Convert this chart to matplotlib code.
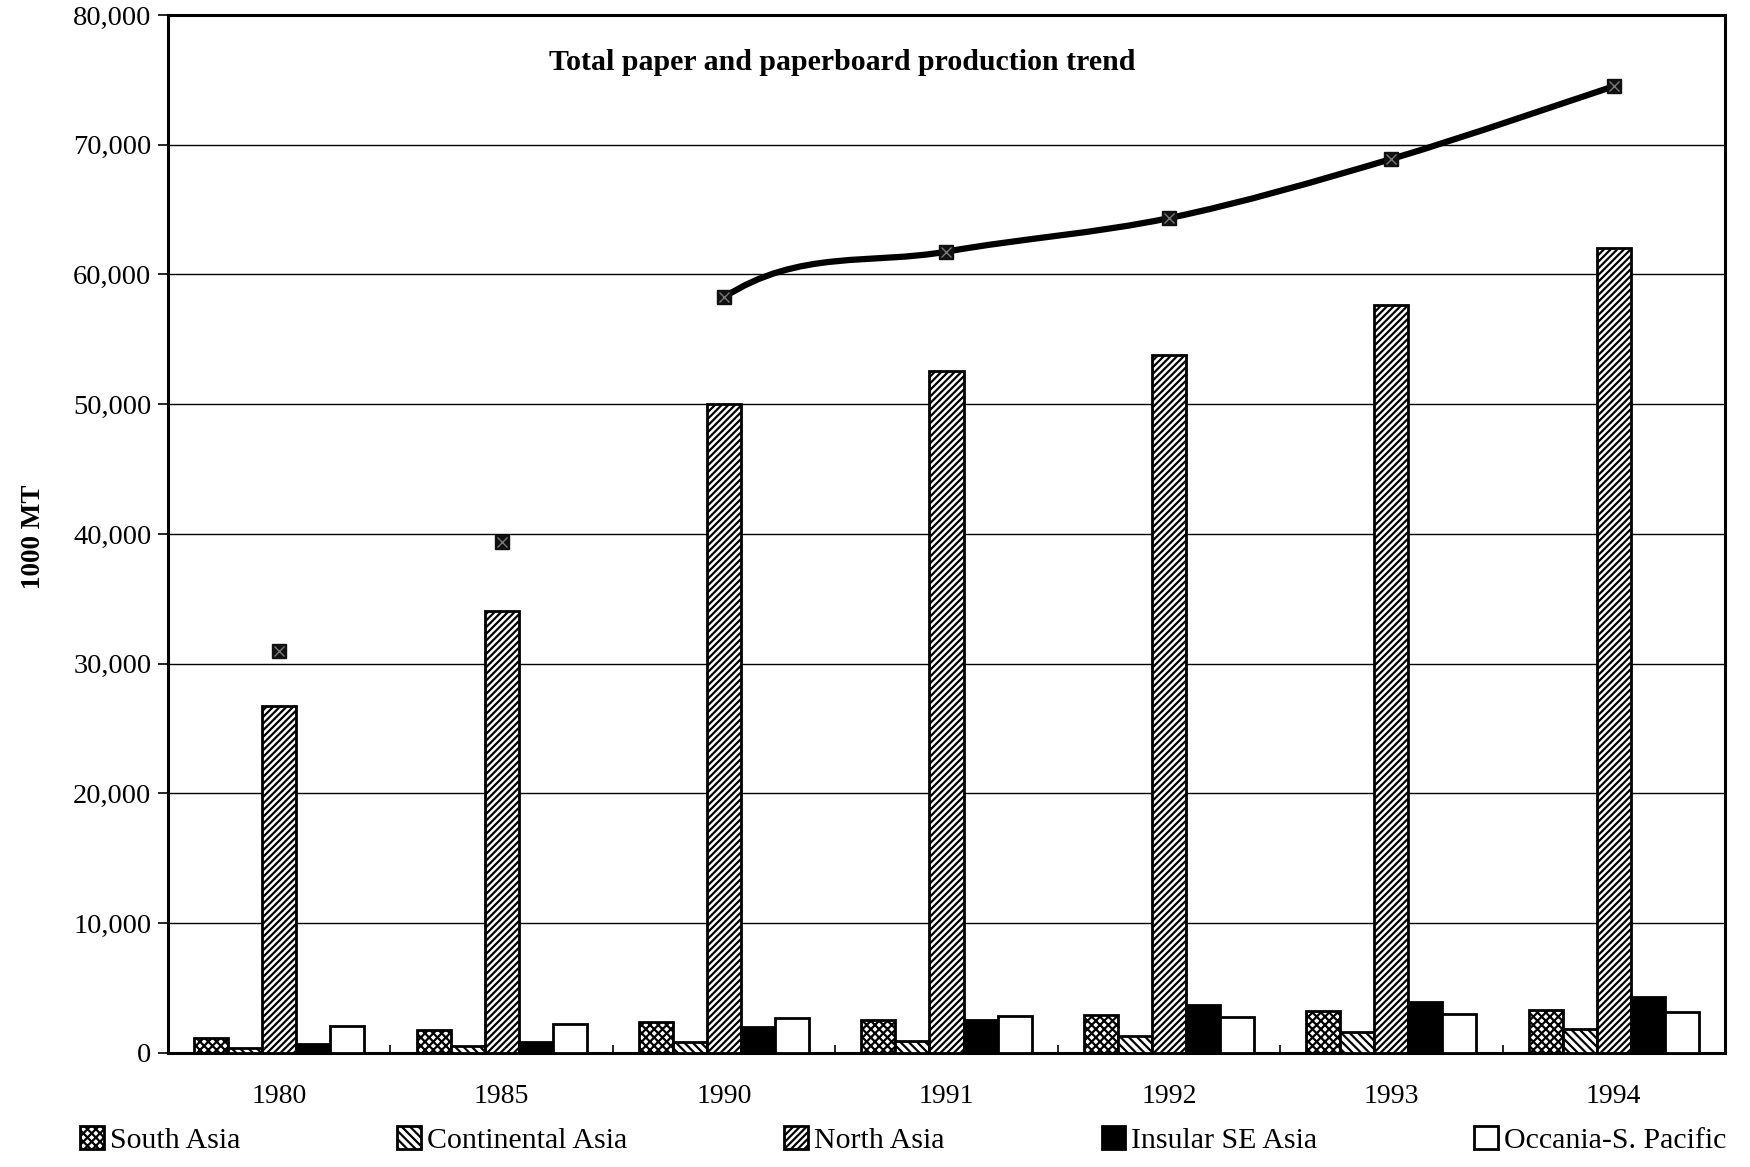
import matplotlib
matplotlib.use("Agg")
import matplotlib.pyplot as plt
import numpy as np
from matplotlib.path import Path
from matplotlib.patches import PathPatch

years = ["1980", "1985", "1990", "1991", "1992", "1993", "1994"]
series_names = ["South Asia", "Continental Asia", "North Asia", "Insular SE Asia", "Occania-S. Pacific"]
south_asia = [1150, 1740, 2400, 2580, 2940, 3250, 3320]
continental_asia = [380, 560, 860, 950, 1300, 1590, 1850]
north_asia = [26750, 34060, 49980, 52560, 53760, 57630, 62020]
insular_se_asia = [720, 820, 1980, 2580, 3660, 3960, 4330]
occania_pacific = [2050, 2260, 2670, 2860, 2740, 2970, 3150]
total = [30970, 39400, 58240, 61760, 64340, 68900, 74500]
line_start_index = 2  # the trend line is drawn from 1990 onwards
title_text = "Total paper and paperboard production trend"
ylabel_text = "1000 MT"
yticks = [0, 10000, 20000, 30000, 40000, 50000, 60000, 70000, 80000]

plt.rcParams["font.family"] = ["Liberation Serif", "DejaVu Serif"]
plt.rcParams["hatch.linewidth"] = 1.6

fig = plt.figure(figsize=(17.5, 11.67), dpi=100)
ax = fig.add_axes([0.096, 0.0977, 0.8897, 0.8895])

values = [south_asia, continental_asia, north_asia, insular_se_asia, occania_pacific]
styles = [
    dict(facecolor="white", hatch="xxxx", edgecolor="black"),
    dict(facecolor="white", hatch="\\\\\\\\", edgecolor="black"),
    dict(facecolor="white", hatch="/////", edgecolor="black"),
    dict(facecolor="black", hatch=None, edgecolor="black"),
    dict(facecolor="white", hatch=None, edgecolor="black"),
]
x = np.arange(len(years))
bw = 0.153
handles = []
for i, (vals, st, name) in enumerate(zip(values, styles, series_names)):
    offs = (i - 2) * bw
    b = ax.bar(x + offs, vals, width=bw, linewidth=2.0, label=name, zorder=3, **st)
    handles.append(b)

# smoothed trend line (Catmull-Rom style Bezier through total points)
tx = x.astype(float)
ty = np.array(total, dtype=float)
n = len(tx)
verts = []
codes = []
for i in range(line_start_index, n - 1):
    p0 = np.array([tx[i - 1], ty[i - 1]]) if i > 0 else np.array([tx[i], ty[i]])
    p1 = np.array([tx[i], ty[i]])
    p2 = np.array([tx[i + 1], ty[i + 1]])
    p3 = np.array([tx[i + 2], ty[i + 2]]) if i + 2 < n else p2
    c1 = p1 + (p2 - p0) / 6.0
    c2 = p2 - (p3 - p1) / 6.0
    if not verts:
        verts.append(tuple(p1)); codes.append(Path.MOVETO)
    verts += [tuple(c1), tuple(c2), tuple(p2)]
    codes += [Path.CURVE4] * 3
path = Path(verts, codes)
ax.add_patch(PathPatch(path, facecolor="none", edgecolor="black", linewidth=4.5,
                       zorder=5, capstyle="round", joinstyle="round"))
ax.plot(tx, ty, linestyle="none", marker="s", markersize=10, color="#111111", zorder=6)
ax.plot(tx, ty, linestyle="none", marker="x", markersize=7, markeredgewidth=1.0,
        color="#777777", zorder=7)

ax.set_xlim(-0.5, len(years) - 0.5)
ax.set_ylim(0, 80000)
ax.set_yticks(yticks)
ax.set_yticklabels([f"{v:,}" for v in yticks])
ax.set_xticks(x)
ax.set_xticklabels(years)
ax.set_xticks(x[:-1] + 0.5, minor=True)
ax.tick_params(axis="x", which="major", length=0, pad=22, labelsize=20)
ax.tick_params(axis="x", which="minor", length=6, direction="in", width=1.2)
ax.tick_params(axis="y", length=7, width=1.2, pad=5, labelsize=20.5)
ax.yaxis.grid(True, color="black", linewidth=1.0, zorder=0)
ax.set_axisbelow(True)
for s in ax.spines.values():
    s.set_linewidth(2.2)
    s.set_color("black")

ax.text(0.433, 0.954, title_text, transform=ax.transAxes, ha="center", va="center",
        fontsize=21.5, fontweight="bold")
fig.text(0.019, 0.54, ylabel_text, rotation=90, ha="center", va="center",
         fontsize=19.5, fontweight="bold")

fig.legend(handles=handles, labels=series_names, loc="center left",
           bbox_to_anchor=(0.0457, 0.023, 0.941, 0.0), mode="expand", ncol=5,
           frameon=False, fontsize=21.5, handlelength=0.8, handleheight=0.8,
           handletextpad=0.2, borderaxespad=0, borderpad=0)

fig.savefig("out.png", dpi=100, facecolor="white")
